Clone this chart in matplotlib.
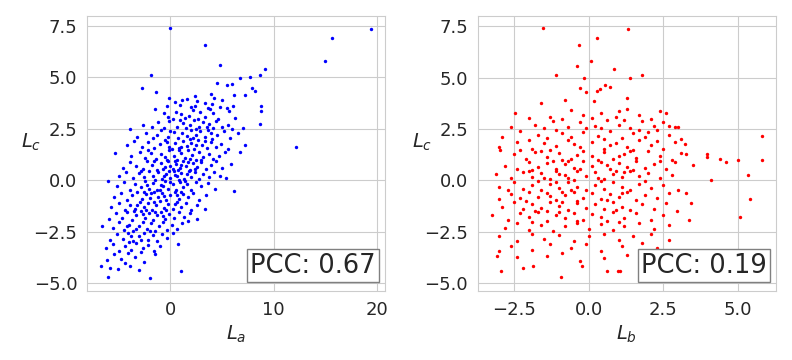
import numpy as np
import matplotlib
matplotlib.use("Agg")
import matplotlib.pyplot as plt
import seaborn as sns

# (L_a, L_c) pairs
pts_a = [
    (0.0, 7.39), (3.39, 6.58), (19.48, 7.34), (15.7, 6.9), (15.0, 5.79), (12.2, 1.6),
    (4.77, 5.59), (9.13, 5.4), (8.65, 5.1), (7.74, 5.0), (6.7, 4.96), (-1.9, 5.1),
    (-2.8, 4.47), (-1.42, 4.29), (-0.19, 3.99), (4.55, 4.72), (5.48, 4.64), (6.0, 4.67),
    (7.94, 4.49), (8.2, 4.33), (7.26, 4.13), (8.74, 3.63), (8.8, 3.35), (8.7, 2.72),
    (7.0, 2.54), (7.26, 1.7), (6.7, 1.36), (6.16, -0.53), (5.35, 0.1), (-6.06, -0.05),
    (-6.68, -2.24), (-6.77, -4.18), (-6.1, -4.72), (-5.87, -4.28), (-2.03, -4.77),
    (1.0, -4.42), (0.71, -3.11), (-1.5, 3.47), (-3.97, 2.5), (-5.42, 1.31),
    # y 4.0 .. 4.5
    (2.4, 4.1), (3.9, 4.2), (4.2, 4.0), (6.2, 4.15),
    # y 3.5 .. 4.0
    (0.4, 3.8), (1.1, 3.9), (1.6, 3.95), (2.4, 3.6), (2.6, 3.85), (3.3, 3.75), (4.0, 3.7),
    (4.8, 3.55), (5.0, 3.9), (6.1, 3.6), (5.5, 3.5), (3.6, 3.5), (2.0, 3.55), (0.9, 3.65),
    (-0.3, 3.6),
    # y 3.0 .. 3.5
    (-0.2, 3.1), (0.5, 3.3), (1.0, 3.2), (1.4, 3.05), (2.2, 3.4), (2.9, 3.3), (3.3, 3.1),
    (4.1, 3.25), (4.6, 3.0), (5.7, 3.35), (6.3, 3.05), (2.7, 3.0), (1.8, 3.15), (3.8, 3.45),
    (0.2, 3.0), (-0.6, 3.25),
    # y 2.5 .. 3.0
    (-2.7, 2.7), (-1.8, 2.6), (-0.6, 2.55), (-0.1, 2.9), (0.6, 2.6), (1.2, 2.8), (1.9, 2.7),
    (2.3, 2.95), (2.8, 2.6), (3.2, 2.85), (3.7, 2.75), (4.4, 2.9), (5.0, 2.6), (5.6, 2.7),
    (6.0, 2.5), (4.1, 2.55), (1.5, 2.52), (0.9, 2.95), (-1.2, 2.85), (2.5, 2.5), (3.5, 2.6),
    # y 2.0 .. 2.5
    (-3.2, 2.1), (-2.4, 2.3), (-1.3, 2.2), (-0.9, 2.45), (-0.2, 2.1), (0.3, 2.35), (0.7, 2.05),
    (1.1, 2.3), (1.6, 2.15), (2.0, 2.45), (2.5, 2.2), (2.9, 2.4), (3.3, 2.1), (3.9, 2.3),
    (4.5, 2.2), (5.2, 2.4), (5.8, 2.05), (6.5, 2.3), (4.0, 2.0), (1.9, 2.0), (0.0, 2.4),
    (-1.7, 2.05), (3.6, 2.45), (2.2, 2.05),
    # y 1.5 .. 2.0
    (-4.2, 1.7), (-3.5, 1.9), (-2.8, 1.6), (-2.2, 1.85), (-1.6, 1.55), (-1.0, 1.75),
    (-0.5, 1.95), (-0.1, 1.6), (0.4, 1.8), (0.8, 1.55), (1.2, 1.9), (1.6, 1.65), (2.0, 1.8),
    (2.3, 1.5), (2.7, 1.95), (3.1, 1.7), (3.5, 1.55), (3.9, 1.85), (4.4, 1.6), (4.9, 1.75),
    (5.6, 1.5), (1.0, 1.6), (-0.3, 1.85), (2.5, 1.7), (0.1, 1.5), (3.3, 1.9),
    # y 1.0 .. 1.5
    (-3.8, 1.2), (-3.0, 1.4), (-2.5, 1.1), (-1.9, 1.35), (-1.4, 1.05), (-0.9, 1.3),
    (-0.5, 1.15), (-0.1, 1.45), (0.3, 1.2), (0.6, 1.0), (1.0, 1.35), (1.4, 1.1), (1.7, 1.45),
    (2.1, 1.25), (2.5, 1.0), (2.8, 1.4), (3.2, 1.15), (3.7, 1.3), (4.1, 1.05), (4.7, 1.2),
    (5.3, 1.4), (0.8, 1.45), (-0.3, 1.0), (1.9, 1.05), (3.0, 1.0), (-2.2, 1.45),
    # y 0.5 .. 1.0
    (-4.6, 0.6), (-3.9, 0.9), (-3.3, 0.7), (-2.7, 0.55), (-2.3, 0.95), (-1.8, 0.75),
    (-1.3, 0.5), (-0.9, 0.85), (-0.5, 0.65), (-0.2, 0.95), (0.2, 0.55), (0.5, 0.8),
    (0.9, 0.6), (1.2, 0.95), (1.5, 0.7), (1.9, 0.5), (2.2, 0.85), (2.6, 0.65), (3.0, 0.9),
    (3.4, 0.55), (3.9, 0.75), (4.4, 0.95), (5.0, 0.6), (5.9, 0.8), (0.0, 0.7), (0.7, 0.5),
    (1.7, 0.9), (-0.7, 0.55), (2.4, 0.55), (-1.6, 0.95), (1.0, 0.75), (0.4, 0.95),
    # y 0.0 .. 0.5
    (-5.0, 0.2), (-4.3, 0.4), (-3.6, 0.1), (-3.1, 0.35), (-2.6, 0.15), (-2.1, 0.45),
    (-1.7, 0.2), (-1.2, 0.4), (-0.8, 0.05), (-0.4, 0.3), (0.0, 0.1), (0.3, 0.45), (0.6, 0.2),
    (1.0, 0.35), (1.3, 0.05), (1.6, 0.3), (2.0, 0.15), (2.4, 0.4), (2.8, 0.05), (3.2, 0.3),
    (3.7, 0.15), (4.2, 0.4), (4.8, 0.2), (0.8, 0.0), (-0.1, 0.45), (-1.5, 0.0), (1.8, 0.45),
    (-2.9, 0.45), (0.4, 0.25), (-0.6, 0.2),
    # y -0.5 .. 0.0
    (-5.2, -0.3), (-4.5, -0.1), (-3.9, -0.45), (-3.4, -0.2), (-2.9, -0.35), (-2.5, -0.05),
    (-2.1, -0.4), (-1.7, -0.15), (-1.3, -0.45), (-0.9, -0.25), (-0.5, -0.05), (-0.2, -0.4),
    (0.2, -0.2), (0.5, -0.45), (0.9, -0.1), (1.2, -0.35), (1.6, -0.2), (2.0, -0.45),
    (2.5, -0.1), (3.0, -0.3), (3.6, -0.15), (4.3, -0.4), (-1.0, -0.45), (0.0, -0.1),
    (-2.3, -0.25), (1.4, -0.05), (-0.7, -0.3),
    # y -1.0 .. -0.5
    (-5.5, -0.8), (-4.8, -0.6), (-4.2, -0.95), (-3.7, -0.7), (-3.2, -0.55), (-2.8, -0.9),
    (-2.4, -0.65), (-2.0, -0.85), (-1.6, -0.55), (-1.2, -0.8), (-0.8, -0.6), (-0.4, -0.95),
    (0.0, -0.7), (0.4, -0.55), (0.8, -0.9), (1.2, -0.65), (1.7, -0.8), (2.2, -0.6),
    (2.8, -0.95), (3.4, -0.7), (-1.9, -0.6), (-0.6, -0.75), (0.6, -0.7), (-2.6, -0.55),
    (1.0, -0.55),
    # y -1.5 .. -1.0
    (-5.8, -1.3), (-5.0, -1.1), (-4.4, -1.45), (-3.9, -1.2), (-3.4, -1.4), (-3.0, -1.05),
    (-2.6, -1.3), (-2.2, -1.1), (-1.8, -1.45), (-1.4, -1.2), (-1.0, -1.0), (-0.6, -1.35),
    (-0.2, -1.15), (0.2, -1.4), (0.6, -1.05), (1.0, -1.3), (1.5, -1.1), (2.0, -1.45),
    (2.6, -1.2), (3.3, -1.4), (-2.4, -1.45), (-1.6, -1.05), (-0.4, -1.45), (0.4, -1.15),
    (-3.2, -1.2),
    # y -2.0 .. -1.5
    (-6.0, -1.9), (-5.3, -1.6), (-4.7, -1.85), (-4.2, -1.55), (-3.7, -1.95), (-3.3, -1.7),
    (-2.9, -1.5), (-2.5, -1.85), (-2.1, -1.6), (-1.7, -1.95), (-1.3, -1.7), (-0.9, -1.55),
    (-0.5, -1.9), (-0.1, -1.65), (0.3, -1.85), (0.8, -1.55), (1.3, -1.8), (1.9, -1.6),
    (2.6, -1.9), (-2.7, -1.65), (-1.5, -1.55), (-0.7, -1.75), (-3.5, -1.5),
    # y -2.5 .. -2.0
    (-5.6, -2.3), (-5.0, -2.05), (-4.5, -2.4), (-4.0, -2.15), (-3.6, -2.45), (-3.1, -2.2),
    (-2.7, -2.05), (-2.3, -2.35), (-1.9, -2.1), (-1.5, -2.45), (-1.1, -2.2), (-0.7, -2.05),
    (-0.3, -2.4), (0.1, -2.15), (0.6, -2.35), (1.1, -2.1), (1.7, -2.0), (-2.0, -2.45),
    (-3.3, -2.35), (-4.2, -2.2),
    # y -3.0 .. -2.5
    (-5.9, -2.9), (-5.2, -2.6), (-4.6, -2.85), (-4.1, -2.55), (-3.6, -2.95), (-3.1, -2.7),
    (-2.6, -2.55), (-2.2, -2.9), (-1.7, -2.65), (-1.3, -2.95), (-0.8, -2.6), (-0.3, -2.8),
    (0.2, -2.55), (-3.8, -2.7), (-2.9, -2.9),
    # y -3.5 .. -3.0
    (-6.3, -3.3), (-5.6, -3.1), (-5.0, -3.45), (-4.4, -3.2), (-3.8, -3.4), (-3.3, -3.05),
    (-2.7, -3.3), (-2.2, -3.15), (-1.6, -3.45), (-1.0, -3.2), (-4.0, -3.0), (-2.9, -3.5),
    # y below -3.5
    (-6.2, -3.9), (-5.5, -3.6), (-4.8, -3.85), (-4.1, -3.55), (-3.4, -3.75), (-2.6, -3.95),
    (-1.5, -3.6), (-4.4, -4.0), (-5.1, -4.3), (-3.9, -4.15), (-3.1, -4.35),
]

# (L_b, L_c) pairs
pts_b = [
    (-1.53, 7.39), (1.32, 7.34), (0.29, 6.9), (-0.32, 6.58), (0.07, 5.79), (-0.39, 5.58),
    (0.85, 5.4), (-1.1, 5.1), (1.79, 5.1), (1.38, 4.96), (-0.16, 5.0), (5.82, 0.97),
    (5.8, 2.14), (5.02, 1.0), (5.33, 0.26), (5.42, -0.92), (5.07, -1.8), (4.11, 0.0),
    (3.98, 1.26), (3.98, 1.12), (4.4, 1.02), (4.61, 0.88), (3.5, 0.73), (3.25, 1.28),
    (3.24, 1.75), (3.26, -0.63), (3.42, -1.09), (3.35, -1.9), (2.95, -1.51), (2.74, -4.76),
    (2.72, -3.42), (-3.26, -1.7), (-2.99, 1.46), (-3.08, -3.68), (-2.95, -4.38),
    (-2.19, -4.25), (-1.87, -4.18), (-0.93, -4.7), (0.6, -4.42), (0.99, -4.38),
    (1.06, -4.38), (-0.21, -4.17), (-2.46, 3.26), (-1.59, 3.74), (-0.78, 3.89), (0.19, 3.87),
    (0.37, 4.44), (0.56, 4.64), (0.71, 4.52), (1.3, 3.99), (0.29, 4.36), (-0.29, 4.47),
    (-0.1, 4.28), (2.39, 3.35), (2.9, 2.61), (2.7, 2.63),
    # y 3.0 .. 3.5
    (-2.0, 3.05), (-1.3, 3.1), (-0.6, 3.4), (-0.2, 3.2), (0.4, 3.3), (0.9, 3.1), (1.3, 3.45),
    (1.7, 3.2), (2.1, 3.0), (2.6, 3.3), (-0.9, 3.0), (0.1, 3.05), (1.0, 3.35),
    # y 2.5 .. 3.0
    (-2.6, 2.6), (-1.8, 2.7), (-1.2, 2.9), (-0.7, 2.6), (-0.3, 2.85), (0.2, 2.65),
    (0.6, 2.95), (1.0, 2.7), (1.4, 2.55), (1.8, 2.9), (2.2, 2.65), (2.5, 2.85), (3.0, 2.6),
    (-1.5, 2.55), (0.4, 2.55), (1.2, 2.95), (-0.1, 2.55),
    # y 2.0 .. 2.5
    (-2.9, 2.1), (-2.3, 2.4), (-1.7, 2.2), (-1.1, 2.45), (-0.6, 2.1), (-0.2, 2.35),
    (0.3, 2.15), (0.7, 2.4), (1.1, 2.05), (1.5, 2.3), (1.9, 2.1), (2.3, 2.45), (2.7, 2.2),
    (3.1, 2.0), (-0.9, 2.3), (0.5, 2.0), (1.7, 2.45), (-1.4, 2.05), (2.0, 2.35),
    # y 1.5 .. 2.0
    (-3.0, 1.6), (-2.4, 1.85), (-1.9, 1.55), (-1.5, 1.8), (-1.1, 1.65), (-0.7, 1.95),
    (-0.3, 1.6), (0.1, 1.85), (0.5, 1.55), (0.9, 1.8), (1.3, 1.6), (1.7, 1.95), (2.1, 1.7),
    (2.5, 1.55), (2.9, 1.85), (-2.0, 1.95), (-0.5, 1.75), (0.7, 1.7), (1.5, 1.5),
    (-1.3, 1.5), (2.3, 1.9),
    # y 1.0 .. 1.5
    (-2.5, 1.3), (-2.1, 1.05), (-1.8, 1.4), (-1.4, 1.15), (-1.0, 1.35), (-0.6, 1.05),
    (-0.2, 1.45), (0.1, 1.2), (0.5, 1.4), (0.8, 1.05), (1.2, 1.3), (1.6, 1.1), (2.0, 1.45),
    (2.4, 1.2), (2.8, 1.0), (3.1, 1.35), (-1.6, 1.45), (-0.9, 1.0), (0.3, 1.0), (1.4, 1.45),
    (-2.3, 1.5), (1.0, 1.2), (-0.4, 1.25),
    # y 0.5 .. 1.0
    (-2.8, 0.7), (-2.4, 0.55), (-2.0, 0.9), (-1.7, 0.65), (-1.4, 0.85), (-1.1, 0.55),
    (-0.8, 0.8), (-0.5, 0.6), (-0.2, 0.95), (0.1, 0.7), (0.4, 0.9), (0.7, 0.55), (1.0, 0.85),
    (1.3, 0.65), (1.6, 0.95), (1.9, 0.6), (2.2, 0.8), (2.6, 0.55), (2.9, 0.9), (-1.9, 0.5),
    (-0.3, 0.55), (0.6, 0.75), (1.5, 0.5), (2.4, 0.95), (-1.2, 0.95), (-0.7, 0.95),
    # y 0.0 .. 0.5
    (-3.1, 0.3), (-2.6, 0.1), (-2.2, 0.4), (-1.9, 0.15), (-1.6, 0.35), (-1.3, 0.05),
    (-1.0, 0.3), (-0.7, 0.1), (-0.4, 0.45), (-0.1, 0.2), (0.2, 0.4), (0.5, 0.05), (0.8, 0.3),
    (1.1, 0.15), (1.4, 0.45), (1.7, 0.2), (2.0, 0.35), (2.4, 0.1), (2.8, 0.25), (-2.0, 0.45),
    (-1.1, 0.45), (-0.5, 0.0), (0.3, 0.1), (1.2, 0.4), (-1.5, 0.1), (0.9, 0.45), (-0.8, 0.25),
    # y -0.5 .. 0.0
    (-3.0, -0.3), (-2.5, -0.1), (-2.2, -0.4), (-1.9, -0.2), (-1.6, -0.45), (-1.3, -0.15),
    (-1.0, -0.35), (-0.7, -0.1), (-0.4, -0.3), (-0.1, -0.45), (0.2, -0.2), (0.5, -0.4),
    (0.8, -0.1), (1.1, -0.3), (1.4, -0.45), (1.7, -0.15), (2.1, -0.35), (2.5, -0.2),
    (3.0, -0.45), (-1.7, -0.05), (-0.6, -0.45), (0.4, -0.05), (-2.7, -0.45), (1.9, -0.05),
    (-1.1, -0.1),
    # y -1.0 .. -0.5
    (-3.0, -0.9), (-2.6, -0.65), (-2.3, -0.85), (-2.0, -0.55), (-1.7, -0.8), (-1.4, -0.6),
    (-1.1, -0.95), (-0.8, -0.7), (-0.5, -0.55), (-0.2, -0.85), (0.1, -0.6), (0.4, -0.9),
    (0.7, -0.65), (1.0, -0.8), (1.3, -0.55), (1.6, -0.95), (1.9, -0.7), (2.3, -0.85),
    (2.7, -0.6), (-1.3, -0.75), (-0.4, -1.0), (0.6, -0.95), (-2.1, -1.0), (1.1, -0.6),
    (-0.9, -0.55),
    # y -1.5 .. -1.0
    (-2.9, -1.3), (-2.5, -1.05), (-2.2, -1.4), (-1.9, -1.15), (-1.6, -1.35), (-1.3, -1.05),
    (-1.0, -1.25), (-0.7, -1.45), (-0.4, -1.1), (-0.1, -1.35), (0.2, -1.15), (0.5, -1.4),
    (0.8, -1.05), (1.1, -1.3), (1.4, -1.45), (1.8, -1.15), (2.2, -1.4), (2.6, -1.1),
    (-1.8, -1.5), (-0.9, -1.05), (0.9, -1.45), (-1.4, -1.5),
    # y -2.0 .. -1.5
    (-2.7, -1.9), (-2.3, -1.6), (-2.0, -1.8), (-1.7, -1.55), (-1.4, -1.95), (-1.1, -1.7),
    (-0.8, -1.85), (-0.5, -1.6), (-0.2, -1.9), (0.1, -1.65), (0.4, -1.8), (0.8, -1.55),
    (1.2, -1.85), (1.6, -1.6), (2.1, -1.9), (2.5, -1.7), (-1.0, -1.55), (-0.4, -1.95),
    (0.6, -1.95),
    # y -2.5 .. -2.0
    (-2.8, -2.3), (-2.4, -2.05), (-2.0, -2.4), (-1.6, -2.15), (-1.2, -2.45), (-0.8, -2.2),
    (-0.4, -2.05), (0.0, -2.35), (0.4, -2.1), (0.8, -2.4), (1.2, -2.2), (1.7, -2.05),
    (2.2, -2.35), (2.7, -2.15), (-1.9, -2.0), (1.0, -2.0),
    # y -3.0 .. -2.5
    (-3.0, -2.7), (-2.4, -2.95), (-1.9, -2.6), (-1.5, -2.85), (-1.0, -2.65), (-0.5, -2.95),
    (0.0, -2.7), (0.5, -2.6), (1.0, -2.9), (1.5, -2.7), (2.1, -2.6), (2.7, -2.9),
    # y below -3.0
    (-2.6, -3.2), (-1.9, -3.4), (-1.3, -3.1), (-0.6, -3.3), (-0.1, -3.1), (0.4, -3.45),
    (1.1, -3.2), (1.8, -3.05), (2.3, -3.3), (-3.0, -3.45), (-2.4, -3.7), (-1.4, -3.65),
    (-0.3, -3.9), (0.5, -3.75), (1.3, -3.6), (-0.9, -3.55),
]

x_ticks_a = [0, 10, 20]
x_ticks_b = [-2.5, 0.0, 2.5, 5.0]
y_ticks = [-5.0, -2.5, 0.0, 2.5, 5.0, 7.5]

panels = [
    (np.array(pts_a), "blue", "$L_a$", "PCC: 0.67", x_ticks_a),
    (np.array(pts_b), "red", "$L_b$", "PCC: 0.19", x_ticks_b),
]

sns.set_style("whitegrid")
plt.rcParams["font.family"] = ["DejaVu Sans"]

fig = plt.figure(figsize=(7.92, 3.6), dpi=100)
ax_pos = [[0.110, 0.192, 0.376, 0.764], [0.6035, 0.192, 0.376, 0.764]]

for pos, (pts, color, xlabel, pcc, xticks) in zip(ax_pos, panels):
    ax = fig.add_axes(pos)
    ax.scatter(pts[:, 0], pts[:, 1], s=6, c=color, linewidths=0)
    ax.set_xlabel(xlabel, fontsize=14)
    ax.set_ylabel("$L_c$", fontsize=14, rotation=0, labelpad=2)
    ax.set_xticks(xticks)
    ax.set_yticks(y_ticks)
    ax.tick_params(labelsize=13)
    ax.text(0.97, 0.045, pcc, transform=ax.transAxes, ha="right", va="bottom",
            fontsize=18.5, color="#262626",
            bbox=dict(boxstyle="square,pad=0.12", fc="white", ec="grey", lw=1))

fig.savefig("out.png", dpi=100)
